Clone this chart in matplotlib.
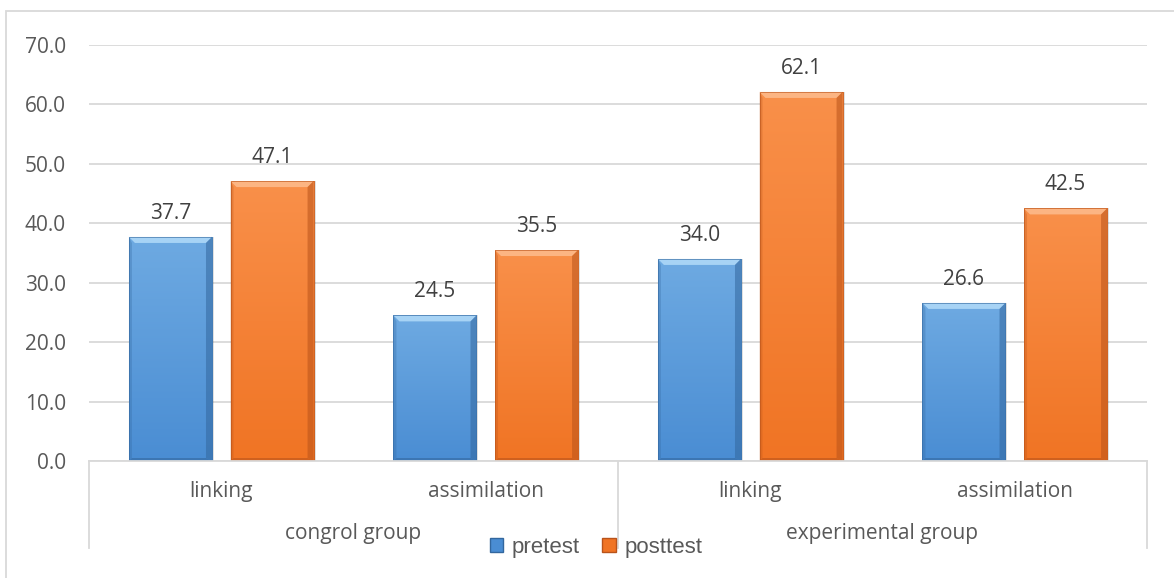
import numpy as np
import matplotlib
matplotlib.use("Agg")
import matplotlib.pyplot as plt
from matplotlib.patches import Rectangle, Polygon, Patch
from matplotlib.colors import LinearSegmentedColormap

# data
categories = ["linking", "assimilation", "linking", "assimilation"]
groups = ["congrol group", "experimental group"]
pretest = [37.7, 24.5, 34.0, 26.6]
posttest = [47.1, 35.5, 62.1, 42.5]
yticks = [0, 10, 20, 30, 40, 50, 60, 70]

txt = "#595959"
grid_c = "#d9d9d9"
blue = dict(top="#6eaae2", bottom="#4a8dd3", light="#a7d3f5", dark="#33679e")
orange = dict(top="#f9904a", bottom="#f07424", light="#fcb583", dark="#b9531a")

W, H = 1174, 578
fig = plt.figure(figsize=(W / 100, H / 100), dpi=100)
# plot area in pixels: x 89..1147, y 45..461
ax = fig.add_axes([89 / W, (H - 461) / H, (1147 - 89) / W, (461 - 45) / H])
ax.set_xlim(-0.5, 3.5)
ax.set_ylim(0, 70)

# pixel -> data scale for the bevels
px_x = 4 / (1147 - 89)
px_y = 70 / (461 - 45)

bar_w = 0.314
off = 0.192


def fancy_bar(x, h, c):
    x0, x1 = x - bar_w / 2, x + bar_w / 2
    # soft shadow
    ax.add_patch(Rectangle((x0 + 2 * px_x, 0), bar_w, h, facecolor="#000000",
                           alpha=0.12, edgecolor="none", zorder=1.9))
    rect = Rectangle((x0, 0), bar_w, h, facecolor=c["bottom"], edgecolor="none", zorder=2)
    ax.add_patch(rect)
    cmap = LinearSegmentedColormap.from_list("g", [c["bottom"], c["top"]])
    grad = np.linspace(0, 1, 128).reshape(-1, 1)
    im = ax.imshow(grad, extent=(x0, x1, 0, h), origin="lower", cmap=cmap,
                   aspect="auto", zorder=2.1)
    im.set_clip_path(rect)
    bx, by = 6 * px_x, 6 * px_y
    # top bevel (light), right bevel (dark), left / bottom (slightly dark)
    ax.add_patch(Polygon([(x0, h), (x1, h), (x1 - bx, h - by), (x0 + bx, h - by)],
                         closed=True, facecolor=c["light"], edgecolor="none", zorder=2.2))
    ax.add_patch(Polygon([(x1, h), (x1, 0), (x1 - bx, by * 0.5), (x1 - bx, h - by)],
                         closed=True, facecolor=c["dark"], alpha=0.55, edgecolor="none", zorder=2.2))
    ax.add_patch(Polygon([(x0, h), (x0, 0), (x0 + bx * 0.5, by * 0.5), (x0 + bx * 0.5, h - by)],
                         closed=True, facecolor=c["dark"], alpha=0.3, edgecolor="none", zorder=2.2))
    ax.add_patch(Polygon([(x0, 0), (x1, 0), (x1 - bx, by * 0.5), (x0 + bx * 0.5, by * 0.5)],
                         closed=True, facecolor=c["dark"], alpha=0.6, edgecolor="none", zorder=2.2))
    ax.add_patch(Rectangle((x0, 0), bar_w, h, facecolor="none", edgecolor=c["dark"],
                           linewidth=0.6, alpha=0.7, zorder=2.3))
    ax.annotate(f"{h:.1f}", xy=(x, h), xytext=(0, 13), textcoords="offset points",
                ha="center", va="baseline", fontsize=15, color="#404040",
                family="Open Sans")


for i in range(len(categories)):
    fancy_bar(i - off, pretest[i], blue)
    fancy_bar(i + off, posttest[i], orange)

ax.set_xlim(-0.5, 3.5)
ax.set_ylim(0, 70)

# grid and axes
ax.set_yticks(yticks)
ax.set_yticklabels([f"{v:.1f}" for v in yticks], family="Open Sans", fontsize=15, color=txt)
ax.yaxis.grid(True, color=grid_c, linewidth=1.3)
ax.set_axisbelow(True)
ax.tick_params(axis="y", length=0, pad=16.5)
ax.set_xticks([])
for s in ["top", "right", "left"]:
    ax.spines[s].set_visible(False)
ax.spines["bottom"].set_color(grid_c)
ax.spines["bottom"].set_linewidth(1.3)

# multi-level category axis
xt = ax.get_xaxis_transform()
for xv in [-0.5, 1.5, 3.5]:
    ax.plot([xv, xv], [0, -87 / 416], color=grid_c, linewidth=1.3,
            transform=xt, clip_on=False)
for i, cat in enumerate(categories):
    ax.annotate(cat, xy=(i, 0), xytext=(0, -26), textcoords="offset points",
                ha="center", va="baseline", fontsize=15, color=txt, family="Open Sans")
for g, name in enumerate(groups):
    ax.annotate(name, xy=(2 * g + 0.5, 0), xytext=(0, -56), textcoords="offset points",
                ha="center", va="baseline", fontsize=15, color=txt, family="Open Sans")

# outer chart frame (clipped on right and bottom)
fig.patches.append(Rectangle((6 / W, -0.1), 1.2, (H - 11) / H + 0.1, transform=fig.transFigure,
                             fill=False, edgecolor=grid_c, linewidth=1.3))

handles = [Patch(facecolor=blue["bottom"], edgecolor=blue["dark"], label="pretest"),
           Patch(facecolor=orange["bottom"], edgecolor=orange["dark"], label="posttest")]
fig.legend(handles=handles, loc="center", bbox_to_anchor=(596 / W, (H - 547) / H),
           ncol=2, frameon=False, borderpad=0, handlelength=0.6, handleheight=0.6,
           handletextpad=0.4, columnspacing=1.0,
           prop={"family": "Liberation Sans", "size": 16}, labelcolor=txt)

fig.savefig("out.png", dpi=100)
